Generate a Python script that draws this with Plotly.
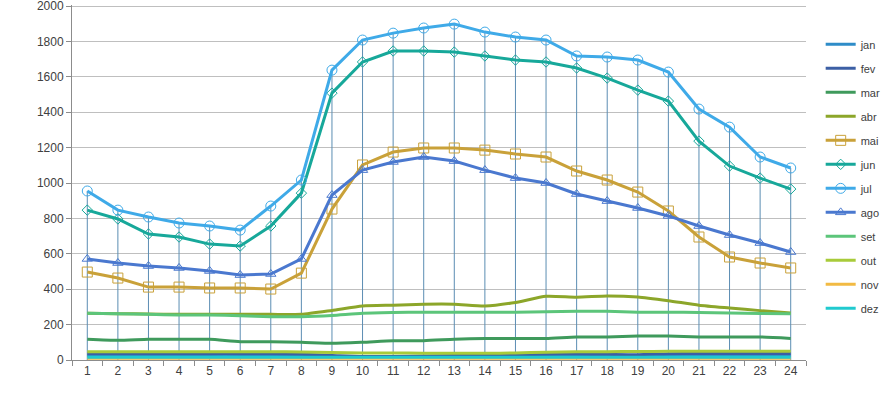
import plotly.graph_objects as go

hours = [str(h) for h in range(1, 25)]

jan = [22, 22, 22, 22, 22, 22, 22, 22, 20, 16, 15, 16, 18, 20, 22, 24, 25, 25, 24, 24, 24, 24, 24, 24]
fev = [36, 36, 36, 36, 36, 36, 35, 32, 26, 20, 20, 22, 25, 28, 30, 33, 34, 32, 30, 36, 37, 37, 37, 37]
mar = [117, 111, 117, 117, 117, 103, 103, 100, 94, 100, 109, 109, 117, 122, 122, 122, 130, 130, 135, 135, 130, 130, 130, 122]
abr = [264, 262, 260, 258, 258, 258, 258, 258, 280, 305, 310, 315, 315, 305, 325, 360, 355, 362, 356, 335, 310, 294, 279, 265]
mai = [497, 463, 412, 412, 407, 407, 401, 491, 853, 1102, 1175, 1198, 1198, 1186, 1164, 1147, 1068, 1017, 949, 842, 695, 582, 548, 520]
jun = [847, 797, 712, 695, 655, 644, 757, 943, 1508, 1684, 1746, 1746, 1740, 1718, 1695, 1684, 1650, 1593, 1525, 1463, 1237, 1096, 1028, 966]
jul = [955, 847, 808, 774, 757, 734, 870, 1017, 1638, 1808, 1847, 1876, 1898, 1853, 1825, 1808, 1718, 1712, 1695, 1627, 1418, 1316, 1147, 1085]
ago = [571, 548, 531, 520, 503, 480, 486, 571, 932, 1073, 1119, 1147, 1124, 1073, 1028, 1000, 938, 898, 859, 814, 757, 706, 661, 610]
set_ = [264, 262, 258, 254, 254, 250, 245, 245, 252, 264, 268, 270, 270, 270, 270, 272, 275, 275, 270, 270, 268, 265, 263, 262]
out = [47, 47, 47, 47, 47, 47, 47, 45, 43, 40, 40, 38, 38, 38, 40, 44, 46, 47, 48, 49, 49, 49, 49, 49]
nov = [10] * 24
dez = [15] * 24

y_ticks = list(range(0, 2001, 200))

series = [
    ("jan", jan, "#2E8CC8", None, 0),
    ("fev", fev, "#3C5FA5", None, 0),
    ("mar", mar, "#3F9A5C", None, 0),
    ("abr", abr, "#8CA62A", None, 0),
    ("mai", mai, "#C9A139", "square-open", 10),
    ("jun", jun, "#17A89A", "diamond-open", 8),
    ("jul", jul, "#3FAAE8", "circle-open", 10),
    ("ago", ago, "#4A78CF", "triangle-up-open", 9),
    ("set", set_, "#5CC57A", None, 0),
    ("out", out, "#A8CB3A", None, 0),
    ("nov", nov, "#F2BA43", None, 0),
    ("dez", dez, "#20CACF", None, 0),
]

fig = go.Figure()

# drop lines from the highest point at each category down to the axis
tops = [max(vals[i] for _, vals, _, _, _ in series) for i in range(len(hours))]
dx, dy = [], []
for h, t in zip(hours, tops):
    dx += [h, h, None]
    dy += [0, t, None]
fig.add_trace(go.Scatter(x=dx, y=dy, mode="lines", line=dict(color="#5B8DB3", width=1),
                         showlegend=False, hoverinfo="skip"))

for name, vals, color, sym, msize in series:
    if sym:
        fig.add_trace(go.Scatter(
            x=hours, y=vals, name=name, legendgroup=name, mode="lines+markers",
            line=dict(color=color, width=3),
            marker=dict(symbol=sym, size=msize, color=color, line=dict(color=color, width=1)),
        ))
    else:
        fig.add_trace(go.Scatter(
            x=hours, y=vals, name=name, legendgroup=name, mode="lines",
            line=dict(color=color, width=3, shape="spline", smoothing=0.6),
        ))

fig.update_layout(
    width=890, height=408,
    margin=dict(l=72, r=84, t=5, b=48, autoexpand=False),
    paper_bgcolor="white", plot_bgcolor="white",
    font=dict(family="Liberation Sans", size=12, color="#404040"),
    legend=dict(x=1.02, xanchor="left", y=0.93, yanchor="top",
                font=dict(size=11, color="#404040"), tracegroupgap=5,
                bgcolor="rgba(0,0,0,0)"),
    xaxis=dict(type="category", range=[-0.5, len(hours) - 0.5], showgrid=False, automargin=False,
               showline=True, linecolor="#8C8C8C", linewidth=1,
               ticks="outside", tickson="boundaries", ticklen=5, tickcolor="#8C8C8C",
               tickfont=dict(size=12, color="#404040")),
    yaxis=dict(range=[0, 2006], tickvals=y_ticks, showgrid=True, gridcolor="#BFBFBF", gridwidth=1,
               showline=True, linecolor="#8C8C8C", linewidth=1, ticks="outside", ticklen=5,
               tickcolor="#8C8C8C", zeroline=False, ticklabeloverflow="allow", automargin=False,
               tickfont=dict(size=12, color="#404040")),
    showlegend=True,
)

fig.write_html("out.html")
